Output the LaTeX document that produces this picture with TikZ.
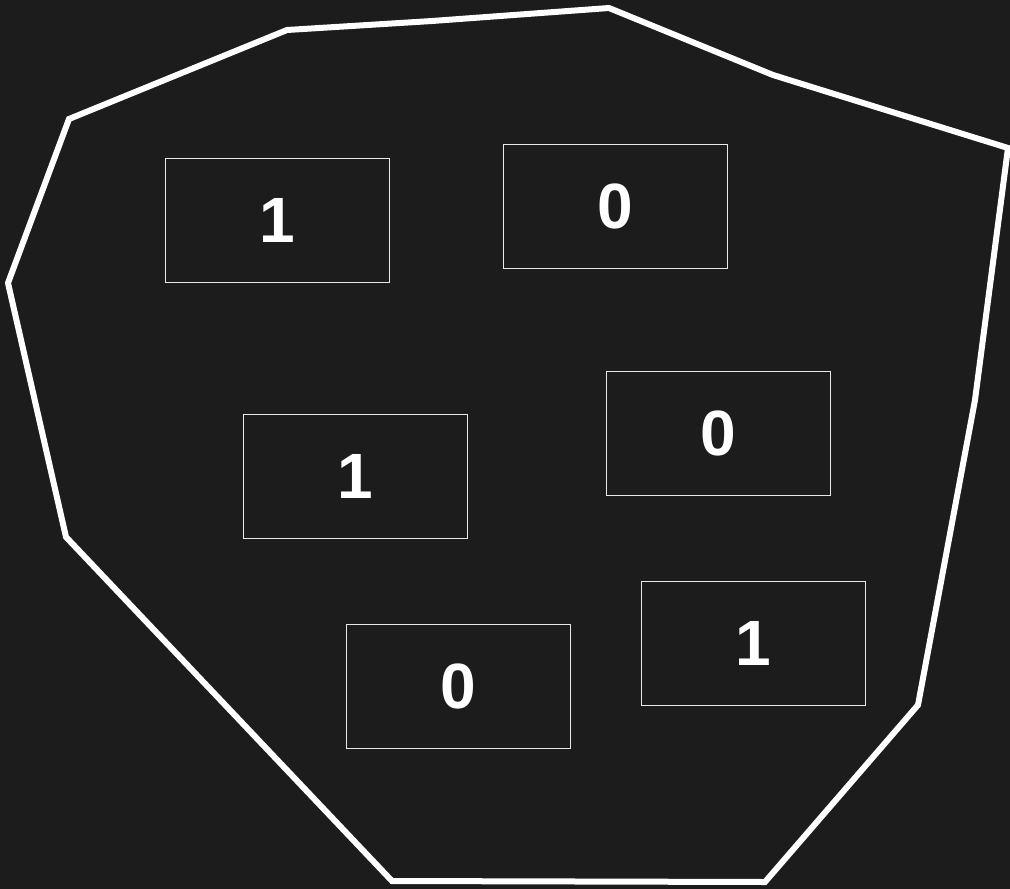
\documentclass[tikz,border=0pt]{standalone}
\usepackage{fontspec}
\setmainfont{Liberation Sans}
\definecolor{bg}{HTML}{1C1C1C}
\definecolor{boxline}{HTML}{E8E8E8}
\begin{document}
\begin{tikzpicture}[x=1pt,y=-1pt,
  cell/.style={draw=boxline,line width=1pt,minimum width=224pt,minimum height=124pt,inner sep=0pt,text=white,font=\fontsize{64}{64}\selectfont\bfseries},
  hull/.style={draw=white,line width=6pt,line join=miter}]
\fill[bg] (0,0) rectangle (1010,889);
\useasboundingbox (0,0) rectangle (1010,889);
\draw[hull] (287,30) -- (432,21) -- (609,8) -- (773,75) -- (1008,148) -- (975,400) -- (918,705) -- (765,882) -- (392,881) -- (66,537) -- (8,283) -- (69,119) -- cycle;
\node[cell] (a) at (277,220) {1};
\node[cell] (b) at (615,206) {0};
\node[cell] (c) at (355,476) {1};
\node[cell] (d) at (718,433) {0};
\node[cell] (e) at (458,686) {0};
\node[cell] (f) at (753,643) {1};
\end{tikzpicture}
\end{document}
